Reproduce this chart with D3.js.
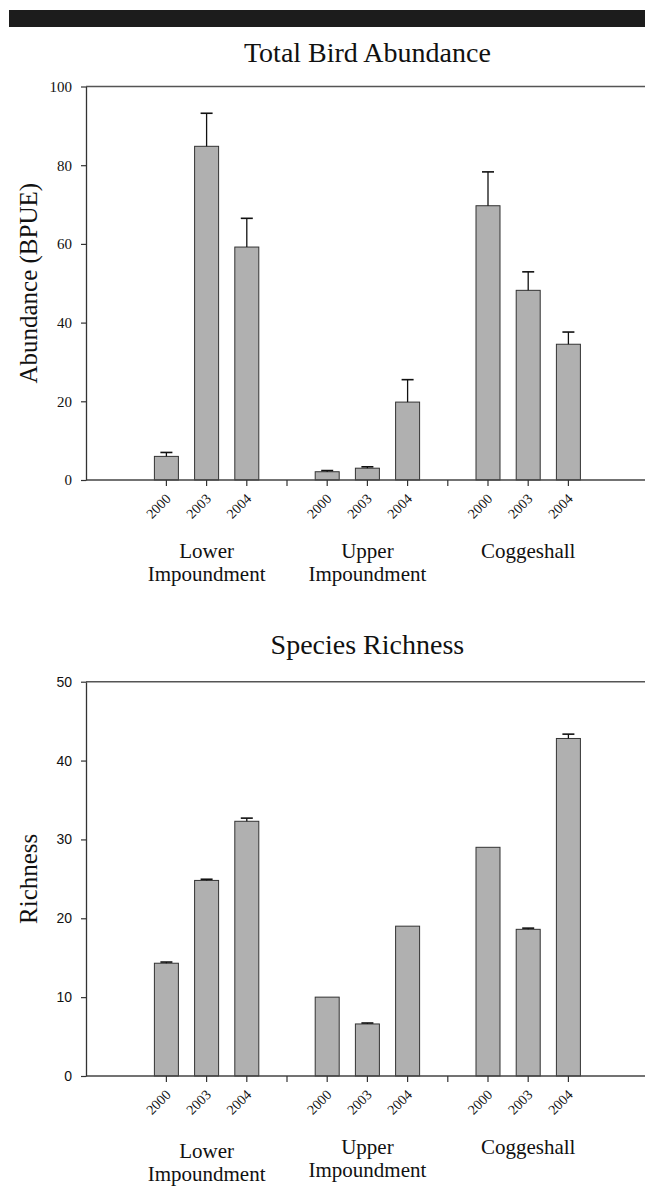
<!DOCTYPE html>
<html>
<head>
<meta charset="utf-8">
<script src="https://cdn.jsdelivr.net/npm/d3@7"></script>
<style>
  html, body { margin: 0; padding: 0; background: #fff; }
  svg { display: block; }
</style>
</head>
<body>
<script>
// ---- data ----
const groups = ["Lower Impoundment", "Upper Impoundment", "Coggeshall"];
const groupLines = [["Lower", "Impoundment"], ["Upper", "Impoundment"], ["Coggeshall"]];
const years = ["2000", "2003", "2004"];
const abundance   = [6.0, 84.8, 59.2, 2.1, 3.0, 19.8, 69.7, 48.2, 34.5];
const abundanceSE = [1.0, 8.4, 7.3, 0.3, 0.35, 5.7, 8.6, 4.7, 3.1];
const richness    = [14.3, 24.8, 32.3, 10.0, 6.6, 19.0, 29.0, 18.6, 42.8];
const richnessSE  = [0.15, 0.15, 0.4, 0, 0.12, 0, 0, 0.15, 0.55];
const abundanceTicks = [0, 20, 40, 60, 80, 100];
const richnessTicks = [0, 10, 20, 30, 40, 50];

const W = 645, H = 1188;
const svg = d3.select("body").append("svg").attr("width", W).attr("height", H);

const SERIF = "'Liberation Serif', 'Times New Roman', serif";
const SANS = "'Liberation Sans', Arial, sans-serif";

// top black band
svg.append("rect").attr("x", 9).attr("y", 10).attr("width", W - 9).attr("height", 17).attr("fill", "#1c1c1c");

// x slots: group g, year i -> slot g*4 + i + 2 ; separators at 5, 9
const x = d3.scaleLinear().domain([0, 14]).range([86, 86 + 14 * 40.2]);
const slot = (g, i) => g * 4 + i + 2;
const separators = [5, 9];
const barW = 24;

function drawChart(cfg) {
  const y = d3.scaleLinear().domain(cfg.domain).range([cfg.y0, cfg.y1]);
  const g = svg.append("g");

  // title
  g.append("text")
    .attr("x", x(7)).attr("y", cfg.titleY)
    .attr("text-anchor", "middle")
    .attr("font-family", SERIF).attr("font-size", 28).attr("fill", "#111")
    .text(cfg.title);

  // top frame line
  g.append("line")
    .attr("x1", x(0)).attr("x2", x(14))
    .attr("y1", y(cfg.domain[1])).attr("y2", y(cfg.domain[1]))
    .attr("stroke", "#555").attr("stroke-width", 1.5);

  // bars
  const rows = [];
  groups.forEach((grp, gi) => years.forEach((yr, yi) => {
    const k = gi * 3 + yi;
    rows.push({ gi, yi, v: cfg.values[k], se: cfg.se[k] });
  }));

  g.selectAll("rect.bar").data(rows).join("rect")
    .attr("class", "bar")
    .attr("x", d => x(slot(d.gi, d.yi)) - barW / 2)
    .attr("width", barW)
    .attr("y", d => y(d.v))
    .attr("height", d => y(0) - y(d.v))
    .attr("fill", "#b0b0b0")
    .attr("stroke", "#333")
    .attr("stroke-width", 1);

  // error bars (upper only)
  const eb = rows.filter(d => d.se > 0);
  g.selectAll("line.err").data(eb).join("line")
    .attr("class", "err")
    .attr("x1", d => x(slot(d.gi, d.yi))).attr("x2", d => x(slot(d.gi, d.yi)))
    .attr("y1", d => y(d.v)).attr("y2", d => y(d.v + d.se))
    .attr("stroke", "#111").attr("stroke-width", 1.3);
  g.selectAll("line.cap").data(eb).join("line")
    .attr("class", "cap")
    .attr("x1", d => x(slot(d.gi, d.yi)) - 6).attr("x2", d => x(slot(d.gi, d.yi)) + 6)
    .attr("y1", d => y(d.v + d.se)).attr("y2", d => y(d.v + d.se))
    .attr("stroke", "#111").attr("stroke-width", 1.6);

  // x baseline
  g.append("line")
    .attr("x1", x(0)).attr("x2", x(14))
    .attr("y1", y(0)).attr("y2", y(0))
    .attr("stroke", "#444").attr("stroke-width", 1.3);

  // x ticks
  const tickSlots = rows.map(d => slot(d.gi, d.yi)).concat(separators);
  g.selectAll("line.xt").data(tickSlots).join("line")
    .attr("class", "xt")
    .attr("x1", d => x(d)).attr("x2", d => x(d))
    .attr("y1", y(0)).attr("y2", y(0) + 6)
    .attr("stroke", "#333").attr("stroke-width", 1.2);

  // year labels
  g.selectAll("text.yr").data(rows).join("text")
    .attr("class", "yr")
    .attr("transform", d => `translate(${x(slot(d.gi, d.yi)) + 5.3},${y(0) + 19.6}) rotate(-45)`)
    .attr("text-anchor", "end")
    .attr("font-family", SERIF).attr("font-size", 14).attr("fill", "#111")
    .text(d => years[d.yi]);

  // group labels
  groupLines.forEach((lines, gi) => {
    const off = cfg.groupOffsets[gi];
    lines.forEach((ln, li) => {
      g.append("text")
        .attr("x", x(slot(gi, 1)))
        .attr("y", y(0) + off + li * 23.3)
        .attr("text-anchor", "middle")
        .attr("font-family", SERIF).attr("font-size", 21).attr("fill", "#111")
        .text(ln);
    });
  });

  // y axis
  const ax = g.append("g")
    .attr("transform", `translate(${x(0)},0)`)
    .call(d3.axisLeft(y).tickValues(cfg.ticks).tickSize(5).tickPadding(9).tickSizeOuter(0));
  ax.select(".domain").attr("stroke", "#333").attr("stroke-width", 1.3);
  ax.selectAll(".tick line").attr("stroke", "#333").attr("stroke-width", 1.2);
  ax.selectAll(".tick text")
    .attr("font-family", cfg.tickFont).attr("font-size", cfg.tickSize).attr("fill", "#111");

  // y label
  g.append("text")
    .attr("transform", `translate(36.5,${(cfg.y0 + cfg.y1) / 2}) rotate(-90)`)
    .attr("text-anchor", "middle")
    .attr("font-family", SERIF).attr("font-size", 25).attr("fill", "#111")
    .text(cfg.ylabel);
}

drawChart({
  title: "Total Bird Abundance", titleY: 62,
  domain: [0, 100], y0: 480, y1: 86.5,
  values: abundance, se: abundanceSE, ticks: abundanceTicks,
  tickFont: SERIF, tickSize: 15,
  ylabel: "Abundance (BPUE)",
  groupOffsets: [78, 78, 78]
});

drawChart({
  title: "Species Richness", titleY: 653.5,
  domain: [0, 50], y0: 1076, y1: 681.7,
  values: richness, se: richnessSE, ticks: richnessTicks,
  tickFont: SANS, tickSize: 14,
  ylabel: "Richness",
  groupOffsets: [82, 78, 78]
});
</script>
</body>
</html>
